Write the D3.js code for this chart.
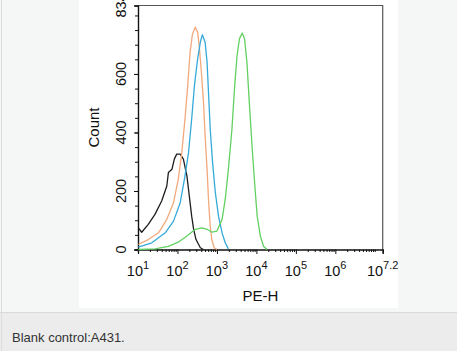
<!DOCTYPE html>
<html>
<head>
<meta charset="utf-8">
<script src="https://cdn.jsdelivr.net/npm/d3@7"></script>
<style>
  body { margin: 0; background: #f5f6f6; }
  svg { display: block; font-family: "Liberation Sans", Arial, sans-serif; }
</style>
</head>
<body>
<svg id="chart" width="457" height="351"></svg>
<script>
// Flow histogram, PE-H (log) vs Count, four overlaid traces.

// x values are log10(PE-H)
const blackLog = [1.008, 1.094, 1.26, 1.43, 1.60, 1.73, 1.77, 1.86, 1.92, 1.98, 2.07, 2.15, 2.24, 2.30, 2.36, 2.41, 2.47, 2.58, 2.66];
const blackCount = [74, 59, 86, 120, 166, 217, 263, 274, 309, 326, 326, 309, 251, 183, 114, 69, 34, 6, 0];

const orangeLog = [1.008, 1.26, 1.52, 1.73, 1.90, 2.02, 2.11, 2.19, 2.26, 2.32, 2.38, 2.45, 2.51, 2.55, 2.60, 2.66, 2.70, 2.75, 2.79, 2.83, 2.87, 2.93, 3.00];
const orangeCount = [17, 34, 57, 103, 160, 240, 331, 446, 560, 674, 737, 760, 743, 697, 617, 503, 388, 274, 160, 80, 34, 6, 0];

const blueLog = [1.008, 1.35, 1.69, 1.90, 2.07, 2.19, 2.28, 2.36, 2.43, 2.51, 2.58, 2.63, 2.70, 2.75, 2.79, 2.83, 2.89, 2.96, 3.04, 3.13, 3.21, 3.29];
const blueCount = [8, 23, 57, 97, 160, 251, 331, 446, 560, 651, 709, 734, 709, 640, 526, 411, 297, 194, 114, 57, 23, 2];

const greenLog = [1.008, 1.43, 1.77, 2.02, 2.24, 2.45, 2.62, 2.75, 2.87, 3.00, 3.13, 3.21, 3.29, 3.38, 3.45, 3.51, 3.57, 3.64, 3.70, 3.76, 3.82, 3.89, 3.96, 4.02, 4.10, 4.18, 4.27];
const greenCount = [0, 2, 11, 25, 46, 69, 74, 69, 59, 63, 103, 171, 274, 411, 560, 663, 720, 740, 720, 640, 503, 354, 217, 114, 46, 11, 0];

const xMajor = [1, 2, 3, 4, 5, 6, 7.2];   // exponents of labelled ticks
const yMajor = [0, 200, 400, 600, 834];
const yMax = 834;
const caption = "Blank control:A431.";

const series = [
  { name: "black", log: blackLog, count: blackCount, color: "#1e1e1e" },
  { name: "orange", log: orangeLog, count: orangeCount, color: "#f2a97c" },
  { name: "blue", log: blueLog, count: blueCount, color: "#35aad8" },
  { name: "green", log: greenLog, count: greenCount, color: "#62d062" }
];

const svg = d3.select("#chart");

// page chrome: white image box, caption strip
svg.append("rect").attr("x", 79).attr("y", 0).attr("width", 319).attr("height", 308).attr("fill", "#fff");
svg.append("rect").attr("x", 0).attr("y", 312.5).attr("width", 457).attr("height", 39).attr("fill", "#ececec");
svg.append("line").attr("x1", 0).attr("x2", 457).attr("y1", 312.5).attr("y2", 312.5).attr("stroke", "#d9d9d9");
svg.append("line").attr("x1", 1.5).attr("x2", 1.5).attr("y1", 0).attr("y2", 351).attr("stroke", "#dcdcdc");
svg.append("text").attr("x", 12).attr("y", 342).attr("font-size", 13).attr("fill", "#333").text(caption);

const x = d3.scaleLog().domain([10, Math.pow(10, 7.2)]).range([138, 382.7]);
const y = d3.scaleLinear().domain([0, yMax]).range([249.5, 5.5]);
const [x0, x1] = x.range();
const [yb, yt] = y.range();

// frame (top + right)
svg.append("path")
  .attr("d", `M${x0},${yt}H${x1}V${yb}`)
  .attr("fill", "none").attr("stroke", "#555").attr("stroke-width", 1.2);

// minor x ticks
const xMinor = [];
for (let d = 1; d <= 7; d++) for (let k = 1; k <= 9; k++) {
  const v = k * Math.pow(10, d);
  if (v <= Math.pow(10, 7.2) && !(k === 1 && d < 7)) xMinor.push(v);
}

const gX = svg.append("g").attr("transform", `translate(0,${yb})`);
gX.call(d3.axisBottom(x).tickValues(xMinor).tickSize(2.5).tickFormat(""));
gX.append("g").call(d3.axisBottom(x).tickValues(xMajor.map(e => Math.pow(10, e))).tickSize(4.5).tickFormat(""));
gX.selectAll("path.domain").attr("stroke", "#111").attr("stroke-width", 1.2);
gX.selectAll(".tick line").attr("stroke", "#111");

const xl = svg.append("g").attr("font-size", 14.5).attr("fill", "#111");
xMajor.forEach(e => {
  const t = xl.append("text").attr("x", x(Math.pow(10, e))).attr("y", 276).attr("text-anchor", "middle");
  t.append("tspan").text("10");
  t.append("tspan").attr("dy", -7).attr("font-size", 11).text(String(e));
});
svg.append("text").attr("x", (x0 + x1) / 2).attr("y", 300.5).attr("text-anchor", "middle")
  .attr("font-size", 15).attr("fill", "#111").text("PE-H");

// y axis
const gY = svg.append("g").attr("transform", `translate(${x0},0)`);
gY.call(d3.axisLeft(y).tickValues(d3.range(0, yMax, 50)).tickSize(3).tickFormat(""));
gY.append("g").call(d3.axisLeft(y).tickValues(yMajor).tickSize(4).tickFormat(""));
gY.selectAll("path.domain").attr("stroke", "#111").attr("stroke-width", 1.2);
gY.selectAll(".tick line").attr("stroke", "#111");

yMajor.forEach(v => {
  svg.append("text")
    .attr("transform", `translate(125.5,${y(v)}) rotate(-90)`)
    .attr("text-anchor", "middle").attr("font-size", 14.5).attr("fill", "#111")
    .text(v);
});
svg.append("text")
  .attr("transform", `translate(99,${(yt + yb) / 2}) rotate(-90)`)
  .attr("text-anchor", "middle").attr("font-size", 15).attr("fill", "#111").text("Count");

// traces
const line = d3.line()
  .x(d => x(Math.pow(10, d[0])))
  .y(d => y(d[1]));

svg.append("g").selectAll("path")
  .data(series)
  .join("path")
  .attr("fill", "none")
  .attr("stroke", d => d.color)
  .attr("stroke-width", 1.3)
  .attr("stroke-linejoin", "round")
  .attr("d", d => line(d.log.map((v, i) => [v, d.count[i]])));
</script>
</body>
</html>
